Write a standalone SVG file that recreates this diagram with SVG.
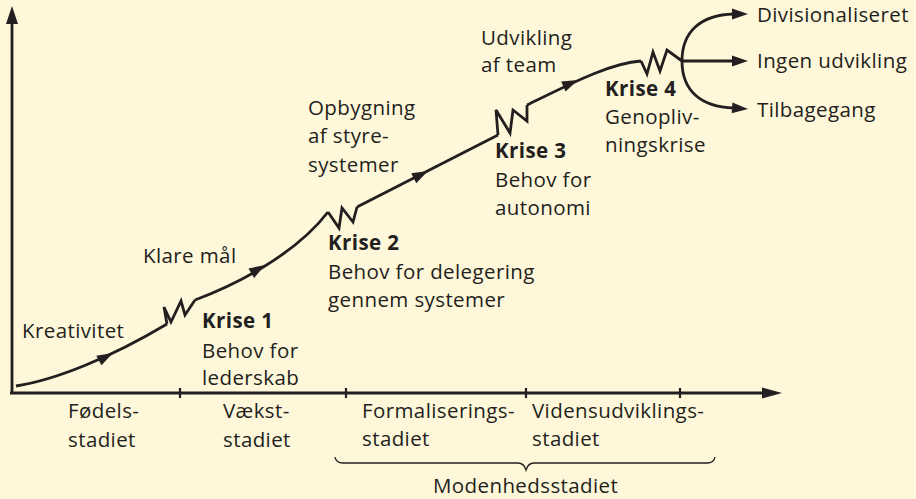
<svg xmlns="http://www.w3.org/2000/svg" xmlns:xlink="http://www.w3.org/1999/xlink" width="916" height="499" viewBox="0 0 916 499">
  <style>
    .bg { fill: #FEF7D9; }
    .ln { fill: none; stroke: #231F20; stroke-width: 2.8; stroke-linejoin: miter; stroke-linecap: butt; }
    .ax { fill: none; stroke: #231F20; stroke-width: 2.8; }
    .tk { fill: none; stroke: #231F20; stroke-width: 2.2; }
    .br { fill: none; stroke: #231F20; stroke-width: 1.3; }
    .ah { fill: #231F20; }
    text { font-family: "Open Sans", "Liberation Sans", Arial, sans-serif; font-size: 20.5px; fill: #231F20; letter-spacing: 0.4px; }
    .b { font-weight: bold; }
  </style>
  <defs>
    <path id="ah" d="M0,0 L-16,-5.5 L-16,5.5 Z"/>
  </defs>

  <rect class="bg" x="0" y="0" width="916" height="499"/>

  <!-- axes -->
  <g id="axes">
    <path class="ax" d="M12,394 V22"/>
    <path class="ah" d="M12,6 L18,24 L6,24 Z"/>
    <path class="ax" d="M10,393 H766"/>
    <path class="ah" d="M782,393 L762,387.5 L762,398.5 Z"/>
    <path class="tk" d="M180,388 V398 M346,388 V398 M526,388 V398 M680,388 V398"/>
  </g>

  <!-- growth path with crises and outcomes -->
  <g id="connectors">
    <path class="ln" d="M16,386 C55,380 110,358 167,324"/>
    <use class="ah" href="#ah" transform="translate(113,353) rotate(-28)"/>
    <path class="ln" d="M167,324 L164,307 L171,322 L181,301 L185,315 L195,300"/>
    <path class="ln" d="M195,300 C235,285 295,255 328,212"/>
    <use class="ah" href="#ah" transform="translate(265,265) rotate(-31)"/>
    <path class="ln" d="M328,212 L339,228 L342,208 L353,222 L357,207"/>
    <path class="ln" d="M357,207 L498,135"/>
    <use class="ah" href="#ah" transform="translate(428,171) rotate(-27)"/>
    <path class="ln" d="M498,135 L496,110 L510,133 L513,110 L527,121 L527,105"/>
    <path class="ln" d="M527,105 C570,84 610,63 641,61"/>
    <use class="ah" href="#ah" transform="translate(578,80) rotate(-24)"/>
    <path class="ln" d="M641,61 L647,74 L653,52 L660,71 L667,50 L682,61"/>
    <path class="ln" d="M682,61 C682,32 700,15 734,14"/>
    <use class="ah" href="#ah" transform="translate(748,14)"/>
    <path class="ln" d="M682,61 H734"/>
    <use class="ah" href="#ah" transform="translate(748,61)"/>
    <path class="ln" d="M682,61 C682,90 700,107 734,108"/>
    <use class="ah" href="#ah" transform="translate(748,109) rotate(4)"/>
  </g>

  <!-- phase labels along the path -->
  <g id="kreativitet"><text x="22" y="338">Kreativitet</text></g>
  <g id="klare-maal"><text x="143" y="263">Klare mål</text></g>
  <g id="opbygning">
    <text x="308" y="115">Opbygning</text>
    <text x="308" y="143">af styre-</text>
    <text x="308" y="172">systemer</text>
  </g>
  <g id="udvikling">
    <text x="481" y="45">Udvikling</text>
    <text x="481" y="72">af team</text>
  </g>

  <!-- crises -->
  <g id="krise1">
    <text class="b" x="202" y="328">Krise 1</text>
    <text x="202" y="358">Behov for</text>
    <text x="202" y="385">lederskab</text>
  </g>
  <g id="krise2">
    <text class="b" x="328" y="250">Krise 2</text>
    <text x="328" y="279">Behov for delegering</text>
    <text x="328" y="307">gennem systemer</text>
  </g>
  <g id="krise3">
    <text class="b" x="495" y="158">Krise 3</text>
    <text x="495" y="187">Behov for</text>
    <text x="495" y="215">autonomi</text>
  </g>
  <g id="krise4">
    <text class="b" x="605" y="96">Krise 4</text>
    <text x="605" y="124">Genopliv-</text>
    <text x="605" y="152">ningskrise</text>
  </g>

  <!-- outcomes -->
  <g id="divisionaliseret"><text x="757" y="22">Divisionaliseret</text></g>
  <g id="ingen-udvikling"><text x="757" y="68">Ingen udvikling</text></g>
  <g id="tilbagegang"><text x="757" y="117">Tilbagegang</text></g>

  <!-- stages on the time axis -->
  <g id="foedsel">
    <text x="68" y="418">Fødels-</text>
    <text x="68" y="447">stadiet</text>
  </g>
  <g id="vaekst">
    <text x="223" y="418">Vækst-</text>
    <text x="223" y="447">stadiet</text>
  </g>
  <g id="formalisering">
    <text x="362" y="418">Formaliserings-</text>
    <text x="362" y="446">stadiet</text>
  </g>
  <g id="videnudvikling">
    <text x="532" y="418">Vidensudviklings-</text>
    <text x="532" y="446">stadiet</text>
  </g>
  <g id="modenhed">
    <path class="br" d="M335,457 Q336,463 343,463 L518,463 Q524,463 526,470 Q528,463 534,463 L707,463 Q714,463 715,457"/>
    <text x="433" y="493">Modenhedsstadiet</text>
  </g>
</svg>
